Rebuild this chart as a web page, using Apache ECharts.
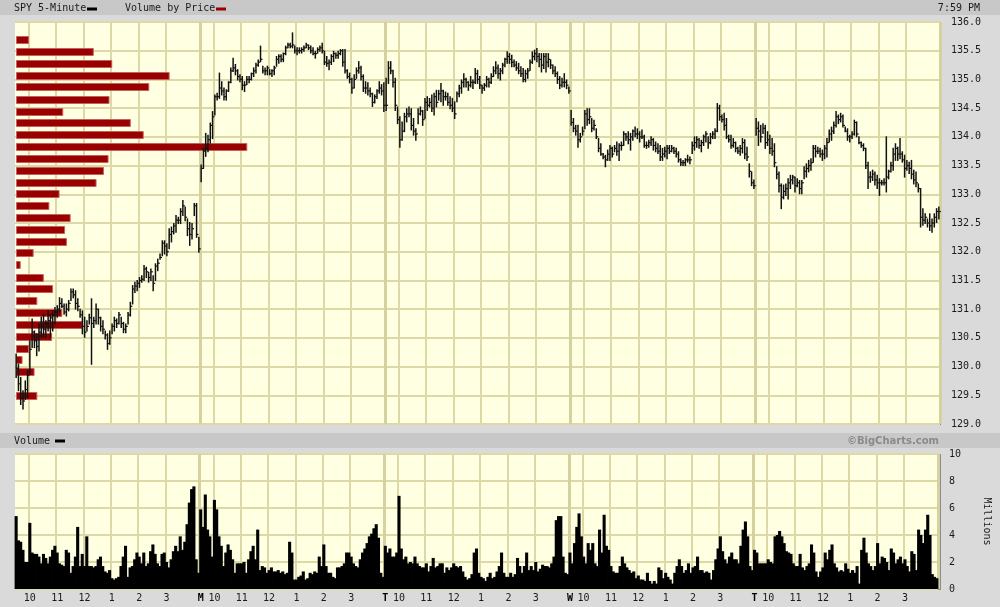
<!DOCTYPE html>
<html><head><meta charset="utf-8">
<script src="https://cdn.jsdelivr.net/npm/echarts@6/dist/echarts.min.js"></script>
<style>html,body{margin:0;padding:0;background:#dadada}#c{width:1000px;height:607px}</style>
</head><body><div id="c"></div>
<script>
// ---------- DATA ----------
const dayLetters = ['F','M','T','W','T'];
const hourKeys = ['10:00','11:00','12:00','13:00','14:00','15:00'];
const hourText = ['10','11','12','1','2','3'];
const priceTicks = [129,136,0.5];
const volumeTicks = [0,10,2];
// [high, low, close] per 5-minute bar
const barsFri = [
[130.22,129.81,129.97],[130.04,129.58,129.70],[129.81,129.34,129.45],[129.58,129.26,129.40],[129.75,129.43,129.60],
[129.93,129.46,129.85],[130.45,129.87,130.30],[130.83,130.33,130.60],[130.62,130.33,130.45],[130.57,130.19,130.35],
[130.74,130.27,130.60],[130.86,130.51,130.70],[130.91,130.51,130.65],[130.80,130.51,130.75],[130.97,130.62,130.80],
[130.91,130.51,130.85],[130.97,130.62,130.90],[131.03,130.74,130.95],[131.06,130.86,131.00],[131.20,130.94,131.10],
[131.18,131.03,131.05],[131.09,130.91,130.95],[131.09,130.88,131.00],[131.15,130.97,131.10],[131.35,131.15,131.30],
[131.35,131.20,131.25],[131.32,131.00,131.10],[131.18,130.97,131.05],[131.00,130.86,130.90],[130.97,130.57,130.70],
[130.86,130.51,130.60],[130.80,130.62,130.70],[130.91,130.74,130.85],[131.18,130.04,130.75],[130.86,130.68,130.80],
[131.09,130.74,131.00],[131.00,130.74,130.85],[130.86,130.62,130.70],[130.80,130.57,130.65],[130.62,130.48,130.55],
[130.57,130.30,130.40],[130.62,130.39,130.50],[130.74,130.57,130.70],[130.86,130.62,130.80],[130.83,130.68,130.75],
[130.94,130.74,130.90],[130.86,130.68,130.75],[130.77,130.59,130.65],[130.74,130.59,130.70],[130.94,130.74,130.90],
[131.12,130.88,131.05],[131.41,131.09,131.35],[131.47,131.29,131.40],[131.50,131.32,131.45],[131.55,131.38,131.50],
[131.58,131.47,131.52],[131.76,131.50,131.70],[131.73,131.55,131.65],[131.64,131.47,131.55],[131.70,131.50,131.65],
[131.58,131.32,131.45],[131.79,131.50,131.75],[131.87,131.67,131.80],[131.96,131.87,131.90],[132.19,131.93,132.15],
[132.19,131.96,132.10],[132.14,131.93,132.00],[132.40,132.05,132.30],[132.43,132.17,132.35],[132.49,132.31,132.45],
[132.63,132.34,132.55],[132.60,132.49,132.55],[132.75,132.49,132.70],[132.89,132.63,132.80],[132.78,132.54,132.60],
[132.57,132.28,132.40],[132.51,132.11,132.30],[132.49,132.22,132.40],[132.84,132.63,132.80],[132.84,132.25,132.30],
[132.25,131.99,132.05]];
const barsMon = [
[133.51,133.22,133.45],[133.80,133.45,133.75],[134.06,133.66,133.80],[134.03,133.74,133.95],[134.24,133.89,134.20],
[134.44,133.97,134.35],[134.73,134.38,134.70],[134.76,134.64,134.70],[135.11,134.67,134.85],[134.96,134.73,134.80],
[134.85,134.64,134.70],[134.82,134.64,134.80],[134.96,134.79,134.95],[135.20,134.94,135.15],[135.37,135.14,135.20],
[135.26,135.08,135.15],[135.17,134.99,135.05],[135.08,134.96,135.00],[135.05,134.82,134.90],[134.96,134.79,134.90],
[135.05,134.91,135.00],[135.05,134.94,135.00],[135.11,134.99,135.10],[135.20,135.05,135.15],[135.28,135.11,135.25],
[135.34,135.23,135.30],[135.58,135.31,135.35],[135.23,135.11,135.15],[135.20,135.08,135.15],[135.23,135.08,135.20],
[135.17,135.08,135.10],[135.17,135.05,135.15],[135.23,135.08,135.20],[135.40,135.23,135.35],[135.43,135.28,135.40],
[135.43,135.31,135.35],[135.46,135.31,135.45],[135.58,135.43,135.55],[135.63,135.55,135.60],[135.63,135.55,135.58],
[135.81,135.55,135.60],[135.58,135.46,135.50],[135.55,135.43,135.50],[135.55,135.46,135.50],[135.55,135.46,135.52],
[135.58,135.49,135.55],[135.63,135.55,135.60],[135.60,135.52,135.55],[135.58,135.46,135.50],[135.55,135.43,135.45],
[135.49,135.37,135.45],[135.55,135.46,135.52],[135.58,135.49,135.55],[135.63,135.46,135.50],[135.49,135.26,135.30],
[135.40,135.23,135.28],[135.34,135.17,135.30],[135.43,135.26,135.40],[135.49,135.31,135.45],[135.46,135.37,135.42],
[135.49,135.37,135.45],[135.52,135.43,135.50],[135.52,135.23,135.30],[135.52,135.11,135.15],[135.17,135.02,135.05],
[135.11,134.94,135.00],[135.02,134.76,134.85],[135.08,134.85,135.00],[135.20,135.02,135.15],[135.31,135.11,135.20],
[135.23,134.99,135.05],[135.08,134.79,134.85],[134.96,134.76,134.85],[134.94,134.73,134.80],[134.85,134.70,134.75],
[134.76,134.53,134.60],[134.73,134.59,134.70],[134.82,134.67,134.80],[134.96,134.76,134.85],[134.91,134.73,134.80],
[134.94,134.44,134.55]];
const barsTue = [
[135.02,134.46,134.55],[135.31,134.93,135.20],[135.31,135.10,135.15],[135.16,134.87,134.95],[135.02,134.46,134.55],
[134.52,134.23,134.30],[134.35,133.82,133.95],[134.26,133.94,134.10],[134.41,134.09,134.35],[134.49,134.26,134.40],
[134.52,134.35,134.40],[134.49,134.12,134.20],[134.32,134.03,134.10],[134.14,133.94,134.05],[134.49,134.23,134.40],
[134.52,134.38,134.45],[134.46,134.20,134.30],[134.67,134.32,134.60],[134.70,134.46,134.55],[134.67,134.52,134.60],
[134.73,134.44,134.50],[134.76,134.38,134.70],[134.81,134.52,134.60],[134.81,134.64,134.75],[134.93,134.61,134.80],
[134.81,134.55,134.70],[134.78,134.64,134.70],[134.76,134.55,134.60],[134.70,134.49,134.55],[134.67,134.44,134.50],
[134.61,134.32,134.40],[134.78,134.61,134.75],[134.90,134.70,134.85],[134.99,134.76,134.95],[135.10,134.87,135.00],
[135.02,134.87,134.95],[134.96,134.81,134.90],[135.05,134.87,134.95],[134.99,134.84,134.95],[135.19,134.93,135.10],
[135.16,134.93,135.00],[135.05,134.84,134.90],[134.90,134.76,134.85],[134.93,134.81,134.90],[135.05,134.87,135.00],
[135.02,134.87,134.95],[135.10,134.93,135.05],[135.22,135.05,135.15],[135.31,135.10,135.20],[135.25,135.02,135.10],
[135.19,134.99,135.15],[135.28,135.10,135.25],[135.37,135.22,135.35],[135.48,135.28,135.40],[135.45,135.28,135.35],
[135.42,135.22,135.30],[135.34,135.22,135.25],[135.31,135.16,135.20],[135.28,135.10,135.15],[135.22,135.05,135.10],
[135.19,134.96,135.00],[135.16,134.96,135.10],[135.19,135.02,135.15],[135.34,135.16,135.30],[135.48,135.28,135.40],
[135.51,135.34,135.45],[135.54,135.31,135.40],[135.45,135.22,135.35],[135.45,135.13,135.25],[135.45,135.19,135.40],
[135.45,135.13,135.30],[135.45,135.22,135.35],[135.34,135.19,135.25],[135.25,135.10,135.15],[135.22,135.05,135.10],
[135.13,134.93,135.00],[135.05,134.84,134.90],[135.02,134.87,134.95],[135.10,134.87,134.95],[134.99,134.84,134.90],
[134.87,134.76,134.80]];
const barsWed = [
[134.46,134.20,134.25],[134.32,134.09,134.15],[134.20,134.03,134.10],[134.20,133.82,133.95],[134.06,133.91,134.00],
[134.17,134.03,134.10],[134.46,134.14,134.40],[134.49,134.20,134.30],[134.49,134.23,134.35],[134.32,134.09,134.15],
[134.29,134.12,134.20],[134.14,133.97,134.00],[133.97,133.74,133.80],[133.88,133.68,133.70],[133.71,133.62,133.65],
[133.68,133.48,133.60],[133.77,133.59,133.70],[133.85,133.59,133.80],[133.82,133.65,133.70],[133.85,133.74,133.80],
[133.91,133.68,133.75],[133.88,133.59,133.85],[133.91,133.77,133.85],[134.09,133.85,134.05],[134.06,133.94,134.00],
[134.09,133.88,133.95],[134.06,133.77,134.00],[134.12,133.94,134.10],[134.17,134.00,134.05],[134.14,133.97,134.05],
[134.09,133.91,134.00],[134.12,133.97,134.00],[134.03,133.82,133.85],[133.91,133.80,133.85],[133.94,133.82,133.90],
[134.00,133.85,133.95],[133.97,133.77,133.85],[133.91,133.74,133.80],[133.88,133.71,133.75],[133.85,133.59,133.65],
[133.80,133.59,133.70],[133.82,133.65,133.75],[133.85,133.62,133.80],[133.85,133.71,133.75],[133.85,133.74,133.80],
[133.82,133.71,133.75],[133.80,133.65,133.70],[133.74,133.56,133.60],[133.62,133.50,133.55],[133.59,133.50,133.55],
[133.62,133.50,133.60],[133.68,133.56,133.60],[133.65,133.53,133.60],[133.91,133.71,133.85],[134.00,133.77,133.90],
[134.00,133.82,133.95],[133.97,133.80,133.85],[133.94,133.74,133.90],[134.03,133.85,134.00],[134.09,133.91,134.05],
[134.00,133.80,133.90],[134.06,133.88,134.00],[134.09,133.97,134.05],[134.14,133.97,134.10],[134.58,134.09,134.50],
[134.55,134.29,134.35],[134.38,134.26,134.30],[134.41,134.12,134.20],[134.32,133.97,134.00],[134.03,133.91,133.95],
[134.03,133.80,133.85],[133.97,133.82,133.90],[133.91,133.74,133.80],[133.82,133.71,133.75],[133.85,133.68,133.80],
[133.97,133.72,133.90],[133.95,133.62,133.70],[133.82,133.59,133.65],[133.53,133.30,133.40],[133.39,133.15,133.20],
[133.25,133.10,133.15]];
const barsThu = [
[134.32,134.03,134.15],[134.26,133.85,134.10],[134.20,133.91,134.00],[134.23,134.06,134.15],[134.20,133.80,133.90],
[134.09,133.85,133.95],[134.03,133.71,133.80],[133.97,133.68,133.75],[133.88,133.48,133.55],[133.48,133.27,133.35],
[133.39,133.04,133.15],[133.18,132.75,132.95],[133.16,132.92,133.05],[133.18,132.98,133.10],[133.27,132.92,133.20],
[133.33,133.10,133.25],[133.33,133.18,133.30],[133.30,133.04,133.15],[133.27,133.13,133.20],[133.24,133.01,133.10],
[133.24,133.01,133.20],[133.48,133.27,133.40],[133.53,133.30,133.45],[133.59,133.39,133.50],[133.62,133.42,133.55],
[133.85,133.56,133.80],[133.85,133.65,133.75],[133.82,133.71,133.75],[133.80,133.65,133.70],[133.77,133.59,133.70],
[133.85,133.62,133.80],[133.97,133.65,133.90],[134.12,133.91,134.05],[134.17,133.94,134.10],[134.26,134.06,134.20],
[134.44,134.17,134.35],[134.38,134.23,134.30],[134.41,134.26,134.35],[134.38,134.17,134.20],[134.17,134.09,134.10],
[134.14,133.94,134.00],[134.03,133.91,134.00],[134.09,133.97,134.05],[134.29,134.03,134.25],[134.26,134.00,134.05],
[134.00,133.88,133.90],[133.91,133.82,133.85],[133.88,133.76,133.80],[133.80,133.45,133.50],[133.56,133.10,133.30],
[133.39,133.21,133.30],[133.42,133.24,133.35],[133.39,133.16,133.25],[133.33,133.10,133.20],[133.27,132.98,133.20],
[133.24,133.16,133.20],[133.27,133.16,133.20],[134.00,133.04,133.30],[133.42,133.27,133.40],[133.56,133.39,133.50],
[133.80,133.42,133.70],[133.88,133.59,133.80],[133.82,133.59,133.70],[133.97,133.62,133.70],[133.74,133.56,133.60],
[133.68,133.30,133.45],[133.59,133.42,133.50],[133.56,133.36,133.45],[133.59,133.27,133.35],[133.42,133.18,133.25],
[133.39,133.13,133.20],[133.18,133.04,133.10],[133.10,132.43,132.60],[132.75,132.46,132.55],[132.66,132.49,132.60],
[132.57,132.43,132.50],[132.66,132.37,132.45],[132.57,132.34,132.50],[132.66,132.43,132.60],[132.75,132.51,132.70],
[132.78,132.57,132.70]];
// volume, millions of shares per bar
const volFri = [5.4,3.6,3.5,2.9,2.0,2.0,4.9,2.7,2.6,2.6,2.4,1.9,2.6,2.3,1.9,2.4,2.9,3.2,2.7,1.9,1.8,1.7,2.9,2.7,1.2,1.7,2.4,4.6,1.7,2.6,1.7,3.9,1.7,1.7,1.6,1.7,2.2,2.4,1.7,1.3,1.2,1.4,0.8,0.7,0.8,0.9,1.7,2.4,3.2,0.9,1.6,1.7,2.2,2.7,2.4,1.9,2.7,1.7,1.9,2.8,3.3,2.6,1.9,1.7,2.6,2.7,2.0,1.6,2.2,2.8,3.2,2.8,3.9,2.9,3.5,4.8,6.4,7.4,7.6,2.2,1.2];
const volMon = [5.9,4.6,7.0,4.4,3.9,2.4,6.6,5.9,3.9,3.2,1.7,2.7,3.3,2.9,2.2,1.2,1.9,1.9,1.9,2.0,1.2,2.2,2.8,3.2,2.2,4.4,1.4,1.7,1.6,1.2,1.4,1.6,1.3,1.3,1.4,1.2,1.3,1.1,1.2,3.5,2.7,0.7,0.7,0.9,1.0,1.3,0.7,0.8,1.2,1.1,1.3,1.2,2.4,1.7,3.3,1.7,1.2,1.2,0.9,0.8,1.6,1.6,1.7,1.9,2.7,2.7,2.4,1.9,1.7,1.6,2.2,2.7,3.0,3.4,3.9,4.1,4.5,4.8,3.8,1.2,0.9];
const volTue = [3.2,2.7,3.0,2.4,2.4,2.7,6.9,3.0,2.2,2.4,1.9,2.0,1.9,2.4,1.9,1.7,1.6,1.6,1.9,1.3,1.7,2.3,1.6,1.7,1.9,1.9,1.2,1.6,1.4,1.6,1.9,1.7,1.6,1.7,1.3,0.9,0.7,0.8,1.1,2.7,3.0,1.2,0.9,0.8,0.6,0.9,1.2,0.8,0.9,1.3,1.7,2.7,1.2,0.9,0.9,1.2,0.9,1.1,2.3,1.7,1.2,1.7,2.7,1.4,1.7,1.4,2.0,1.3,1.5,1.8,1.7,1.7,1.6,1.9,2.4,5.1,5.4,5.4,2.4,1.2,1.1];
const volWed = [2.7,1.9,3.4,4.6,5.6,3.9,2.4,1.9,3.4,2.9,3.4,1.9,1.7,4.4,2.7,5.5,3.2,2.9,1.7,1.3,1.2,1.2,1.7,2.4,1.9,1.6,1.4,1.2,1.3,0.8,1.0,0.7,0.7,0.6,1.2,0.6,0.4,0.6,0.4,1.6,1.4,0.8,1.2,0.9,0.7,0.4,1.2,1.7,2.2,1.7,1.2,1.4,1.9,1.2,1.6,1.7,2.4,1.4,1.4,1.2,1.3,1.2,0.7,1.4,2.2,3.0,3.9,2.8,2.2,1.9,2.4,2.7,2.2,2.2,1.9,3.2,4.4,5.0,3.9,1.7,1.4];
const volThu = [2.9,2.7,1.9,1.9,1.9,1.9,2.2,2.0,1.9,3.9,4.0,4.3,3.9,3.4,2.8,2.7,2.6,1.9,1.7,1.7,2.6,1.6,1.4,1.7,1.9,3.3,2.7,1.3,0.9,1.3,1.6,2.7,2.2,2.9,3.3,1.9,1.6,1.3,1.4,1.3,1.9,1.5,1.2,1.4,1.2,1.7,0.4,2.9,3.8,2.7,1.9,1.7,1.4,1.7,3.4,1.9,2.4,2.3,2.0,1.4,3.0,2.7,1.9,2.2,2.4,1.9,2.2,1.7,1.3,2.8,2.6,1.4,4.4,4.0,3.4,4.4,5.5,4.0,1.1,0.9,0.8];
// volume by price
const vbpLevels = [135.68,135.48,135.27,135.06,134.86,134.65,134.44,134.24,134.03,133.82,133.62,133.41,133.20,133.00,132.79,132.59,132.38,132.17,131.97,131.76,131.55,131.35,131.14,130.93,130.73,130.52,130.31,130.11,129.90,129.70,129.49];
const vbpVolume = [1.3,8.3,10.3,16.5,14.3,10.0,5.0,12.3,13.7,24.9,9.9,9.4,8.6,4.6,3.5,5.8,5.2,5.4,1.8,0.4,2.9,3.9,2.2,4.9,7.1,3.8,1.3,0.6,1.9,0,2.2];

// ---------- BUILD ----------
const days = [barsFri,barsMon,barsTue,barsWed,barsThu];
const vols = [volFri,volMon,volTue,volWed,volThu];
const perDay = barsFri.length;
const cats = [];
const priceData = [];
const volData = [];
days.forEach((bars,d)=>{
  bars.forEach((b,i)=>{
    const mins = 9*60+30+5*i;
    const t = Math.floor(mins/60)+':'+String(mins%60).padStart(2,'0');
    cats.push(d+'|'+(t.length===4?'0'+t:t));
    priceData.push([cats.length-1,b[0],b[1],b[2]]);
    volData.push([cats.length-1,vols[d][i]]);
  });
});
const hourIdx = {};
cats.forEach((c,i)=>{const k=c.split('|')[1]; const h=hourKeys.indexOf(k); if(h>=0) hourIdx[i]=hourText[h];});
const isHour = i => hourIdx[i]!==undefined;
const isDay = i => i>0 && i%perDay===0;

const gridColor = '#dcd9a6';
const dayColor = '#d6d2a0';
const mono = 'DejaVu Sans Mono';
const fs = 10;

const L=15, R=940;
const chart = echarts.init(document.getElementById('c'),null,{renderer:'canvas'});
const catAxis = (grid, intervalFn, color, width, labels) => ({
  type:'category', gridIndex:grid, data:cats, boundaryGap:true,
  axisLine:{show:false}, axisTick:{show:false},
  axisLabel: labels ? {
    show:true, interval:(i)=>isHour(i)||isDay(i), margin:4,
    fontFamily:mono, fontSize:fs, color:'#1a1a1a',
    formatter:(v,i)=> isDay(i) ? '{b|'+dayLetters[Math.floor(i/perDay)]+'}' : (hourIdx[i]||''),
    rich:{b:{fontWeight:'bold',fontFamily:mono,fontSize:fs,color:'#000'}}
  } : {show:false},
  splitLine:{show:true, interval:(i)=>intervalFn(i), lineStyle:{color, width}}
});

chart.setOption({
  backgroundColor:'#dadada',
  animation:false,
  grid:[
    {left:L, top:22, width:R-L, height:402, show:true, backgroundColor:'#ffffe2', borderWidth:0},
    {left:L, top:454, width:R-L, height:135, show:true, backgroundColor:'#ffffe2', borderWidth:0}
  ],
  xAxis:[
    catAxis(0,isHour,gridColor,2,false),
    catAxis(0,isDay,dayColor,3,false),
    {type:'value', gridIndex:0, min:0, max:100, show:false},
    catAxis(1,isHour,gridColor,2,true),
    catAxis(1,isDay,dayColor,3,false)
  ],
  yAxis:[
    {type:'value', gridIndex:0, position:'right', min:priceTicks[0], max:priceTicks[1], interval:priceTicks[2],
     axisLine:{show:false}, axisTick:{show:false},
     axisLabel:{margin:11, align:'left', fontFamily:mono, fontSize:fs, color:'#1a1a1a', formatter:v=>v.toFixed(1)},
     splitLine:{show:true, lineStyle:{color:gridColor, width:2}}},
    {type:'value', gridIndex:1, position:'right', min:volumeTicks[0], max:volumeTicks[1], interval:volumeTicks[2],
     name:'Millions', nameLocation:'middle', nameRotate:-90, nameGap:44,
     nameTextStyle:{fontFamily:mono, fontSize:fs, color:'#1a1a1a'},
     axisLine:{show:false}, axisTick:{show:false},
     axisLabel:{margin:11, align:'left', fontFamily:mono, fontSize:fs, color:'#1a1a1a'},
     splitLine:{show:true, lineStyle:{color:gridColor, width:2}}}
  ],
  series:[
    {type:'custom', xAxisIndex:2, yAxisIndex:0, z:3,
     data: vbpLevels.map((p,i)=>[vbpVolume[i],p]),
     renderItem:(params,api)=>{
       const v=api.value(0), p=api.value(1);
       if(!v) return;
       const a=api.coord([0,p+0.07]), b=api.coord([v,p-0.07]);
       return {type:'rect', shape:{x:a[0]+1.5, y:Math.round(a[1])+0.5, width:b[0]-a[0], height:Math.round(b[1]-a[1])-1},
               style:{fill:'#990000', stroke:'#c46060', lineWidth:1}};
     }},
    {type:'custom', xAxisIndex:0, yAxisIndex:0, z:5,
     data: priceData,
     renderItem:(params,api)=>{
       const i=api.value(0);
       const hi=api.coord([i,api.value(1)]), lo=api.coord([i,api.value(2)]), cl=api.coord([i,api.value(3)]);
       const x=hi[0];
       return {type:'group', children:[
         {type:'line', shape:{x1:x,y1:hi[1]-0.5,x2:x,y2:lo[1]+0.5}, style:{stroke:'#111',lineWidth:1.5}},
         {type:'line', shape:{x1:x,y1:cl[1],x2:x+2,y2:cl[1]}, style:{stroke:'#111',lineWidth:1.2}}
       ]};
     }},
    {type:'custom', xAxisIndex:3, yAxisIndex:1, z:4, data:volData,
     renderItem:(params,api)=>{
       const i=api.value(0);
       const top=api.coord([i,api.value(1)]), base=api.coord([i,0]);
       const w=api.size([1,0])[0];
       return {type:'rect', shape:{x:top[0]-w/2-0.4, y:top[1], width:w+0.8, height:base[1]-top[1]},
               style:{fill:'#000'}};
     }}
  ],
  graphic:[
    {type:'rect', shape:{x:0,y:0,width:1000,height:15}, style:{fill:'#c8c8c8'}},
    {type:'text', x:14, y:8, style:{text:'SPY 5-Minute', fontFamily:mono, fontSize:fs, fill:'#1a1a1a', verticalAlign:'middle'}},
    {type:'rect', shape:{x:87,y:7.5,width:10,height:3}, style:{fill:'#000'}},
    {type:'text', x:125, y:8, style:{text:'Volume by Price', fontFamily:mono, fontSize:fs, fill:'#1a1a1a', verticalAlign:'middle'}},
    {type:'rect', shape:{x:216,y:7.5,width:10,height:3}, style:{fill:'#990000'}},
    {type:'text', x:980, y:8, style:{text:'7:59 PM', fontFamily:mono, fontSize:fs, fill:'#1a1a1a', align:'right', verticalAlign:'middle'}},
    {type:'rect', shape:{x:0,y:433,width:1000,height:15}, style:{fill:'#c8c8c8'}},
    {type:'text', x:14, y:441, style:{text:'Volume', fontFamily:mono, fontSize:fs, fill:'#1a1a1a', verticalAlign:'middle'}},
    {type:'rect', shape:{x:55,y:439.5,width:10,height:3}, style:{fill:'#000'}},
    {type:'text', x:939, y:441, style:{text:'\u00a9BigCharts.com', fontFamily:'DejaVu Sans', fontWeight:'bold', fontSize:10, fill:'#8a8a8a', align:'right', verticalAlign:'middle'}},
    {type:'line', shape:{x1:940.5,y1:22,x2:940.5,y2:425}, style:{stroke:'#8c8c8c', lineWidth:1}},
    {type:'line', shape:{x1:15,y1:424.5,x2:941,y2:424.5}, style:{stroke:'#8c8c8c', lineWidth:1}},
    {type:'line', shape:{x1:940.5,y1:454,x2:940.5,y2:590}, style:{stroke:'#8c8c8c', lineWidth:1}},
    {type:'line', shape:{x1:15,y1:589.5,x2:941,y2:589.5}, style:{stroke:'#8c8c8c', lineWidth:1}}
  ]
});
</script></body></html>
